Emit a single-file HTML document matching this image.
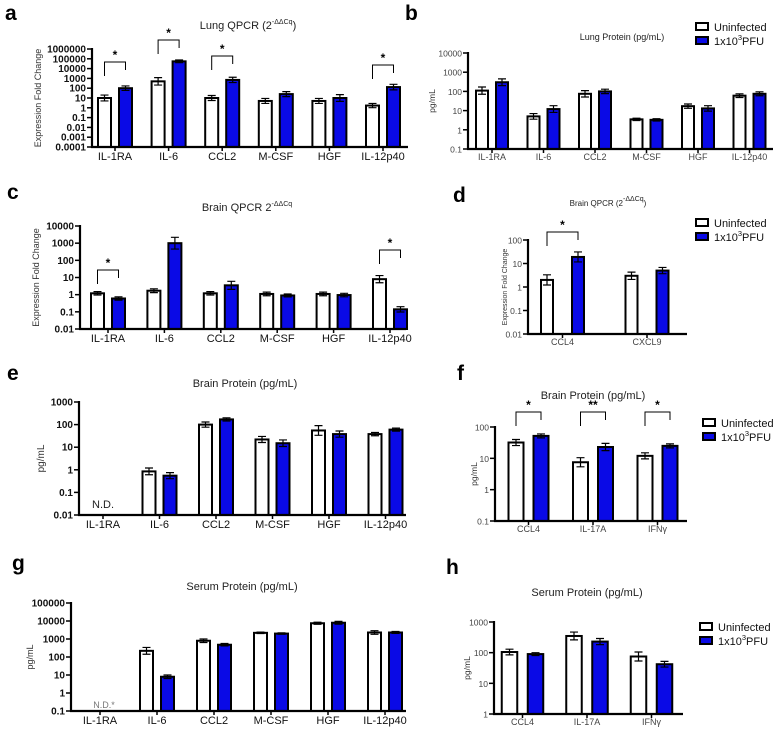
<!DOCTYPE html>
<html><head><meta charset="utf-8"><style>
html,body{margin:0;padding:0;background:#fff;}
svg{display:block;font-family:"Liberation Sans",Arial,sans-serif;}
</style></head><body>
<svg id="fig" width="779" height="733" viewBox="0 0 779 733" xmlns="http://www.w3.org/2000/svg"></svg>
<script>
// ---- data ----
const cats6 = ["IL-1RA","IL-6","CCL2","M-CSF","HGF","IL-12p40"];
const aUninf = [10,500,10,5,5,1.7];
const aInf = [100,55000,700,25,10,130];
const aUninfErr = [20,1200,18,9,9,2.8];
const aInfErr = [170,75000,1300,45,22,250];
const bUninf = [110,5,75,3.5,17,60];
const bInf = [300,12,100,3.3,13,75];
const bUninfErr = [170,7,110,4,22,75];
const bInfErr = [450,18,130,3.8,18,95];
const cUninf = [1.2,1.7,1.2,1.1,1.1,8];
const cInf = [0.6,1000,3.5,0.9,0.95,0.14];
const cUninfErr = [1.5,2.2,1.5,1.4,1.4,13];
const cInfErr = [0.75,2200,6,1.1,1.2,0.2];
const dCats = ["CCL4","CXCL9"];
const dUninf = [2,3];
const dInf = [19,5];
const dUninfErr = [3.3,4.3];
const dInfErr = [31,6.8];
const eUninf = [null,0.85,100,22,55,38];
const eInf = [null,0.55,170,15,38,60];
const eUninfErr = [null,1.2,130,30,90,45];
const eInfErr = [null,0.75,200,21,52,70];
const fCats = ["CCL4","IL-17A","IFNγ"];
const fUninf = [32,7.5,12];
const fInf = [52,23,25];
const fUninfErr = [40,10.5,15];
const fInfErr = [60,30,29];
const gUninf = [null,220,800,2200,7500,2300];
const gInf = [null,8,480,2000,8000,2300];
const gUninfErr = [null,340,1000,2400,8500,2900];
const gInfErr = [null,10,560,2200,9500,2600];
const hUninf = [105,350,75];
const hInf = [90,230,42];
const hUninfErr = [130,470,105];
const hInfErr = [100,290,52];

const NS="http://www.w3.org/2000/svg";
const svg=document.getElementById('fig');
function mk(tag,attrs,parent){const e=document.createElementNS(NS,tag);for(const k in attrs)e.setAttribute(k,attrs[k]);(parent||svg).appendChild(e);return e;}
function fmt(k){return k>=0?String(Math.pow(10,k)):"0."+"0".repeat(-k-1)+"1";}
const BLUE="#0a0ae6";

function panel(p){
  const g=mk('g',{});
  
  
  const y=v=>p.yBot-(Math.log10(v)-p.lmin)/(p.lmax-p.lmin)*(p.yBot-p.yTop);
  const L=mk('text',{x:p.lx,y:p.ly,'font-size':21,'font-weight':'bold'},g);L.textContent=p.id;
  
  
  const T=mk('text',{x:p.tx,y:p.ty,'font-size':p.tfs,'text-anchor':'middle',fill:'#222'},g);
  T.innerHTML=p.title;
  
  
  p.cats.forEach((c,i)=>{
    const cx=p.c0+i*p.sp;
    [[p.u,p.ue,'#fff',-1],[p.b,p.be,BLUE,1]].forEach(([vals,errs,fill,s])=>{
      const v=vals[i]; if(v==null) return;
      const bx=cx+s*p.off-p.bw/2, top=y(v);
      const r=mk('rect',{x:bx,y:top,width:p.bw,height:p.yBot-top,fill:fill,stroke:'#000','stroke-width':2},g);
      
      
      const et=y(errs[i]), d=top-et, ex=cx+s*p.off;
      mk('path',{d:`M${ex},${et}V${Math.min(top+d,p.yBot)}M${ex-4},${et}H${ex+4}M${ex-4},${Math.min(top+d,p.yBot)}H${ex+4}`,stroke:'#000','stroke-width':1.2,fill:'none'},g);
    });
    const lab=mk('text',{x:cx,y:p.yBot+p.cly,'font-size':p.cfs,'text-anchor':'middle',fill:p.cfill},g);lab.textContent=c;
    
    
    mk('line',{x1:cx,x2:cx,y1:p.yBot,y2:p.yBot+4,stroke:'#000','stroke-width':1.5},g);
  });
  mk('line',{x1:p.x0,x2:p.x0,y1:p.yTop-1,y2:p.yBot+1,stroke:'#000','stroke-width':2.2},g);
  mk('line',{x1:p.x0-1,x2:p.x1,y1:p.yBot,y2:p.yBot,stroke:'#000','stroke-width':2.2},g);
  for(let k=p.lmin;k<=p.lmax;k++){
    const yy=y(Math.pow(10,k));
    mk('line',{x1:p.x0-5,x2:p.x0,y1:yy,y2:yy,stroke:'#000','stroke-width':1.5},g);
    const t=mk('text',{x:p.x0-6,y:yy+3.5,'font-size':p.yfs,'text-anchor':'end',fill:p.cfill,'font-weight':p.yfw},g);t.textContent=fmt(k);
    
    
  }
  const yl=mk('text',{x:0,y:0,'font-size':p.ylfs,'text-anchor':'middle',fill:'#333',transform:`translate(${p.ylx},${(p.yTop+p.yBot)/2}) rotate(-90)`},g);
  yl.textContent=p.ylabel;
  
  
  (p.br||[]).forEach(([i,by,star])=>{
    const cx=p.c0+i*p.sp, x1=cx-p.off, x2=cx+p.off;
    const yb=Math.min(y(p.ue[i]),y(p.be[i]));
    mk('path',{d:`M${x1},${Math.min(by+14,yb-4)}V${by}H${x2}V${by+8}`,stroke:'#000','stroke-width':1,fill:'none'},g);
    const s=mk('text',{x:cx,y:by-3,'font-size':12,'text-anchor':'middle','font-weight':'bold'},g);s.textContent=star;
    
    
  });
  (p.nd||[]).forEach(([tx,ty,txt,fs,fill])=>{
    const t=mk('text',{x:tx,y:ty,'font-size':fs,'text-anchor':'middle',fill:fill},g);t.textContent=txt;
    
    
  });
  if(p.leg){
    const [lx,ly]=p.leg;
    const lg=mk('g',{},g);
    
    
    mk('rect',{x:lx,y:ly-4,width:12,height:7,fill:'#fff',stroke:'#000','stroke-width':2},lg);
    mk('rect',{x:lx,y:ly+10,width:12,height:7,fill:BLUE,stroke:'#000','stroke-width':2},lg);
    const t1=mk('text',{x:lx+18,y:ly+4,'font-size':11,fill:'#111'},lg);t1.textContent='Uninfected';
    const t2=mk('text',{x:lx+18,y:ly+18,'font-size':11,fill:'#111'},lg);t2.innerHTML='1x10<tspan font-size="7.5" dy="-5">3</tspan><tspan dy="5">PFU</tspan>';
  }
}
const big={cfs:11,cfill:'#111',yfs:10,yfw:'bold',cly:13};
const sml={cfs:9,cfill:'#444',yfs:8.5,yfw:'normal',cly:11};
const sup='<tspan font-size="7" dy="-5">-ΔΔCq</tspan><tspan dy="5">';
panel(Object.assign({},big,{id:'a',lx:5,ly:20,tx:248,ty:29,tfs:11,title:'Lung QPCR (2'+sup+')</tspan>',cats:cats6,u:aUninf,b:aInf,ue:aUninfErr,be:aInfErr,x0:92,x1:408,yTop:49,yBot:147,lmin:-4,lmax:6,c0:115,sp:53.6,off:10.5,bw:13,ylabel:'Expression Fold Change',ylfs:9,ylx:41,br:[[0,62,'*'],[1,40,'*'],[2,56,'*'],[5,65,'*']]}));
panel(Object.assign({},sml,{id:'b',lx:405,ly:20,tx:622,ty:40,tfs:9,title:'Lung Protein (pg/mL)',cats:cats6,u:bUninf,b:bInf,ue:bUninfErr,be:bInfErr,x0:468,x1:773,yTop:53,yBot:149,lmin:-1,lmax:4,c0:492,sp:51.5,off:10,bw:12,ylabel:'pg/mL',ylfs:8.5,ylx:435,leg:[696,27]}));
panel(Object.assign({},big,{id:'c',lx:7,ly:199,tx:247,ty:211,tfs:11,title:'Brain QPCR 2'+sup+'</tspan>',cats:cats6,u:cUninf,b:cInf,ue:cUninfErr,be:cInfErr,x0:80,x1:406,yTop:226,yBot:329,lmin:-2,lmax:4,c0:108,sp:56.4,off:10.5,bw:13,ylabel:'Expression Fold Change',ylfs:9,ylx:39,br:[[0,270,'*'],[5,250,'*']]}));
panel(Object.assign({},sml,{id:'d',lx:453,ly:202,tx:608,ty:206,tfs:8,title:'Brain QPCR (2'+sup+')</tspan>',cats:dCats,u:dUninf,b:dInf,ue:dUninfErr,be:dInfErr,x0:528,x1:687,yTop:240,yBot:334,lmin:-2,lmax:2,c0:562.5,sp:84.5,off:15.5,bw:12,ylabel:'Expression Fold Change',ylfs:7,ylx:507,br:[[0,232,'*']],leg:[696,223]}));
panel(Object.assign({},big,{id:'e',lx:7,ly:380,tx:245,ty:387,tfs:11,title:'Brain Protein (pg/mL)',cats:cats6,u:eUninf,b:eInf,ue:eUninfErr,be:eInfErr,x0:79,x1:406,yTop:402,yBot:515,lmin:-2,lmax:3,c0:103,sp:56.5,off:10.5,bw:13,ylabel:'pg/mL',ylfs:10,ylx:44,nd:[[103,508,'N.D.',11,'#222']]}));
panel(Object.assign({},sml,{id:'f',lx:457,ly:380,tx:593,ty:399,tfs:11,title:'Brain Protein (pg/mL)',cats:fCats,u:fUninf,b:fInf,ue:fUninfErr,be:fInfErr,x0:495,x1:687,yTop:427,yBot:521,lmin:-1,lmax:2,c0:528.5,sp:64.5,off:12.5,bw:15,ylabel:'pg/mL',ylfs:8.5,ylx:477,br:[[0,412,'*'],[1,412,'**'],[2,412,'*']],leg:[703,423]}));
panel(Object.assign({},big,{id:'g',lx:12,ly:570,tx:242,ty:590,tfs:11,title:'Serum Protein (pg/mL)',cats:cats6,u:gUninf,b:gInf,ue:gUninfErr,be:gInfErr,x0:71,x1:406,yTop:603,yBot:711,lmin:-1,lmax:5,c0:100,sp:57,off:10.5,bw:13,ylabel:'pg/mL',ylfs:9,ylx:33,nd:[[104,708,'N.D.*',9,'#777']]}));
panel(Object.assign({},sml,{id:'h',lx:446,ly:574,tx:587,ty:596,tfs:11,title:'Serum Protein (pg/mL)',cats:fCats,u:hUninf,b:hInf,ue:hUninfErr,be:hInfErr,x0:494,x1:683,yTop:622,yBot:714,lmin:0,lmax:3,c0:522.5,sp:64.5,off:13,bw:15.5,ylabel:'pg/mL',ylfs:8.5,ylx:470,leg:[700,627]}));
</script>
</body></html>
